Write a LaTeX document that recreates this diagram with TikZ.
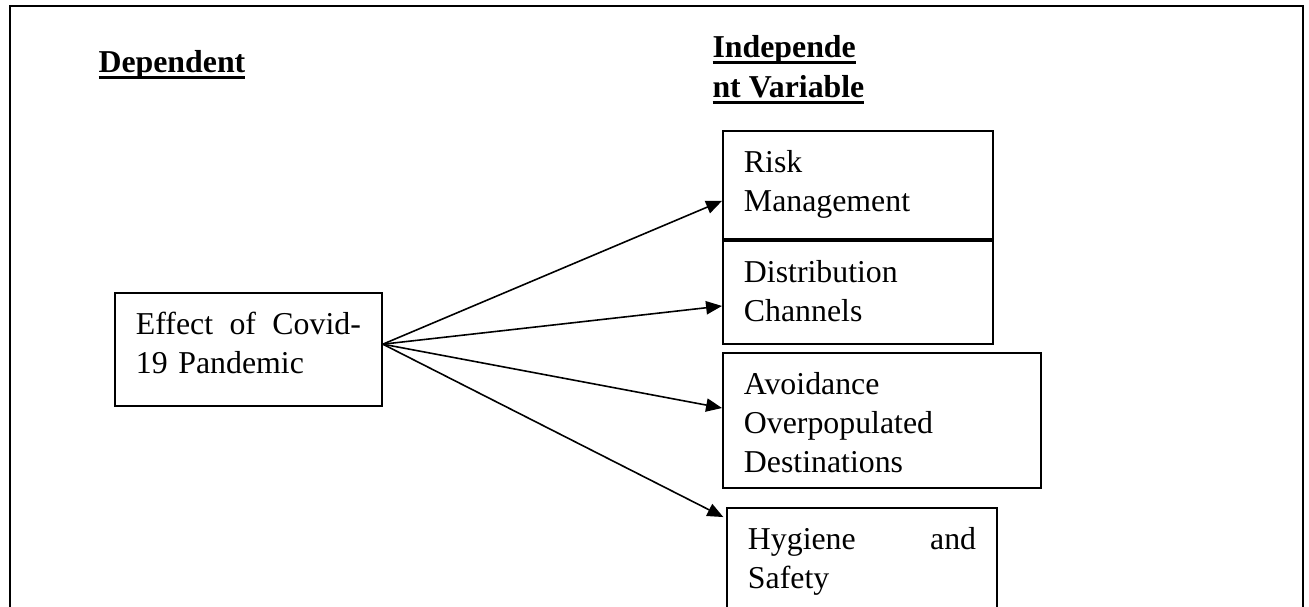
\documentclass[tikz,border=0pt]{standalone}
\usepackage{fontspec}
\setmainfont{Liberation Serif}
\usepackage{tikz}
\usetikzlibrary{arrows.meta, positioning, calc}
\newlength{\headwd}
\newcommand{\headunder}[1]{\settowidth{\headwd}{\textbf{#1}}\textbf{#1}\hspace{-\headwd}\rule[-2.4pt]{\headwd}{1.1pt}}
\newcommand{\spreadline}[2]{\makebox[#1][l]{#2}}

\begin{document}
\begin{tikzpicture}[
			x=0.377pt, y=-0.377pt,
			varbox/.style={
					rectangle, draw, line width=0.75pt, anchor=north west, align=left,
					font={\fontsize{12}{14.8}\selectfont}, inner xsep=7.9pt, inner ysep=6.5pt,
					text height=9pt
				},
			heading/.style={
					anchor=base west, inner sep=0pt, font={\fontsize{12}{15}\selectfont}
				},
			link/.style={
					line width=0.6pt, -{Triangle[length=6pt, width=5pt]}
				}
		]

		\clip (0,0) rectangle (1309,607);

		% outer frame, open at the bottom of the page
		\draw[line width=0.75pt] (10,640) -- (10,6) -- (1303,6) -- (1303,640);

		% headings
		\node[heading] (dep) at (98,73) {\headunder{Dependent}};
		\node[heading] (indep) at (712,58) {\headunder{Independe}};
		\node[heading] (indepvar) at (712,98) {\headunder{nt Variable}};

		% dependent variable
		\node[varbox, text width=84.8pt, text depth=20.6pt] (effect) at (114,292) {
			\spreadline{84.8pt}{Effect\hfill of\hfill Covid-}\\
			19 Pandemic
		};

		% independent variables
		\node[varbox, text width=86pt, text depth=18.7pt] (risk) at (722,130) {
			Risk\\
			Management
		};
		\node[varbox, text width=86pt, text depth=16.8pt] (dist) at (722,240) {
			Distribution\\
			Channels
		};
		\node[varbox, text width=104.1pt, text depth=28.9pt] (avoid) at (722,352) {
			Avoidance\\
			Overpopulated\\
			Destinations
		};
		\node[varbox, text width=86pt, text depth=21.4pt] (hyg) at (726,507) {
			\spreadline{86pt}{Hygiene\hfill and}\\
			Safety
		};

		% arrows fan out from one point on the right side of the effect box
		\coordinate (hub) at ([yshift=2pt]effect.east);
		\draw[link] (hub) -- ([yshift=-6pt]risk.west);
		\draw[link] (hub) -- ([yshift=-5.1pt]dist.west);
		\draw[link] (hub) -- ([yshift=4.7pt]avoid.west);
		\draw[link] (hub) -- ([xshift=-1pt, yshift=-3.8pt]hyg.north west);

	\end{tikzpicture}
\end{document}
